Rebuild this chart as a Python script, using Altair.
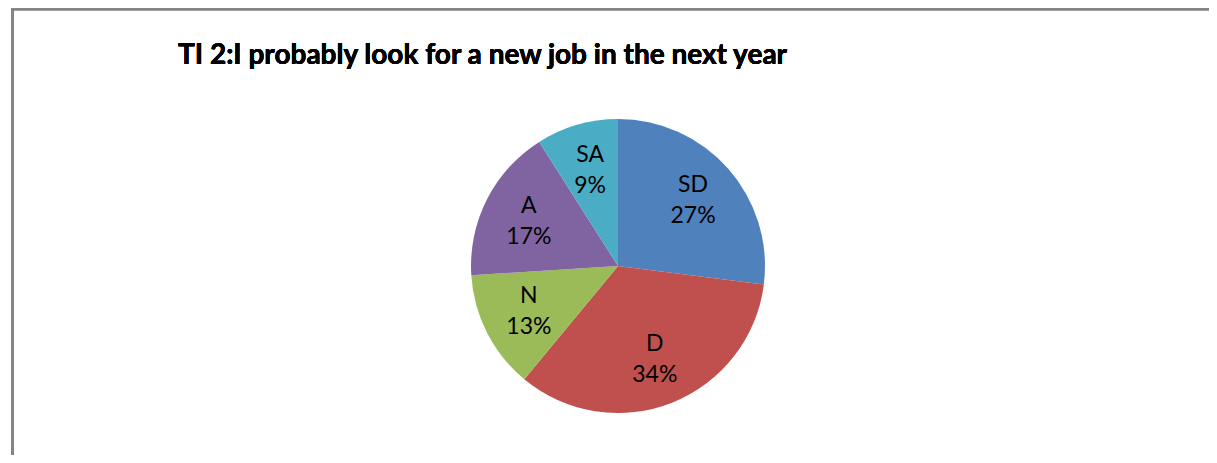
import altair as alt
import pandas as pd

categories = ["SD", "D", "N", "A", "SA"]
percents = [27, 34, 13, 17, 9]
colors = ["#4F81BD", "#C0504D", "#9BBB59", "#8064A2", "#4BACC6"]
title_text = "TI 2:I probably look for a new job in the next year"

df = pd.DataFrame({"cat": categories, "pct": percents, "idx": list(range(len(categories)))})

W, H = 1182, 378
PAD_L, PAD_T = 19, 69

base = alt.Chart(df).encode(
    theta=alt.Theta("pct:Q", stack=True),
    order=alt.Order("idx:Q", sort="ascending"),
)

pie = base.mark_arc(radius=147, stroke=None).encode(
    color=alt.Color("cat:N", scale=alt.Scale(domain=categories, range=colors), legend=None)
)

labels = base.transform_calculate(
    label="datum.cat + '\\n' + datum.pct + '%'"
).mark_text(
    radius=100, lineBreak="\n", font="Lato", fontSize=23, lineHeight=31, dy=-15,
    color="#000000", align="center", baseline="middle"
).encode(text="label:N")

title = alt.Chart(df).mark_text(
    align="left", baseline="alphabetic", font="Lato", fontSize=28, fontWeight="bold", color="#000000"
).encode(x=alt.value(151), y=alt.value(-13), text=alt.value(title_text))

top_border = alt.Chart(df).mark_rule(color="#858585", strokeWidth=2.5).encode(
    x=alt.value(-15), x2=alt.value(W), y=alt.value(-68)
)
left_border = alt.Chart(df).mark_rule(color="#858585", strokeWidth=2.5).encode(
    x=alt.value(-14.5), y=alt.value(-69), y2=alt.value(H)
)

chart = alt.layer(pie, labels, title, top_border, left_border).properties(
    width=W, height=H,
    autosize=alt.AutoSizeParams(type="none"),
    padding={"left": PAD_L, "top": PAD_T, "right": 0, "bottom": 0},
).configure_view(stroke=None)

chart.save("out.html", embed_options={"renderer": "svg", "actions": False})
